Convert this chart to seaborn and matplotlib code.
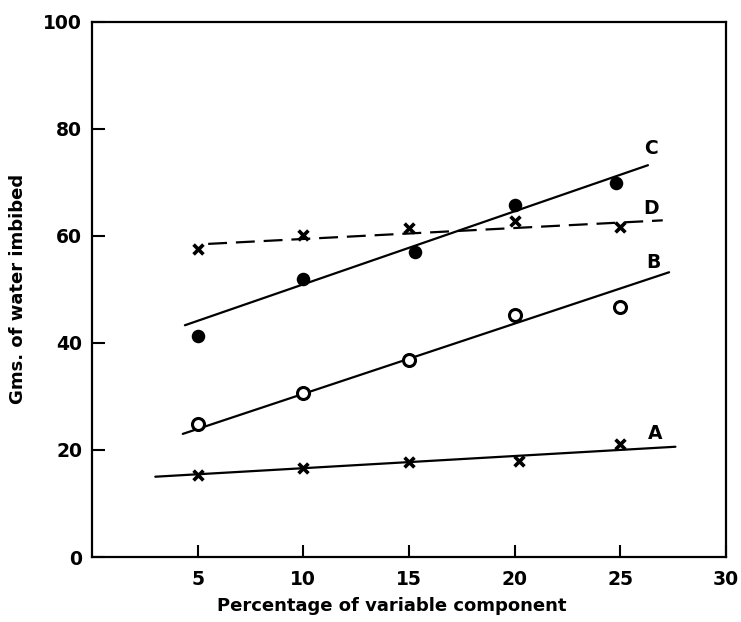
import numpy as np
import pandas as pd
import matplotlib
matplotlib.use("Agg")
import matplotlib.pyplot as plt
import seaborn as sns

# ---- data ----
pct = [5, 10, 15, 20, 25]
c_x = [5, 10, 15.3, 20, 24.8]
c_y = [41.3, 52.0, 57.0, 65.8, 69.9]
d_y = [57.6, 60.2, 61.5, 62.7, 61.6]
b_y = [24.8, 30.7, 36.8, 45.3, 46.8]
a_x = [5, 10, 15, 20.2, 25]
a_y = [15.3, 16.7, 17.8, 17.9, 21.2]

# fitted lines (endpoints)
c_line_x = [4.4, 26.3]
c_line_y = [43.3, 73.2]
d_line_x = [5.5, 27.0]
d_line_y = [58.5, 62.9]
b_line_x = [4.3, 27.3]
b_line_y = [23.0, 53.2]
a_line_x = [3.0, 27.6]
a_line_y = [15.0, 20.6]

curve_names = ["C", "D", "B", "A"]
curve_label_x = [26.1, 26.1, 26.2, 26.3]
curve_label_y = [76.3, 65.2, 55.0, 23.0]

x_ticks = [5, 10, 15, 20, 25, 30]
y_ticks = [0, 20, 40, 60, 80, 100]
x_title = "Percentage of variable component"
y_title = "Gms. of water imbibed"

# ---- plotting ----
sns.set_style("ticks")
plt.rcParams['font.family'] = ['DejaVu Sans']
plt.rcParams['font.weight'] = 'bold'
plt.rcParams['axes.labelcolor'] = 'black'
plt.rcParams['text.color'] = 'black'

fig = plt.figure(figsize=(7.41, 6.22), dpi=100)
ax = fig.add_axes([0.124, 0.1045, 0.856, 0.8605])

lw = 1.6
sns.lineplot(x=c_line_x, y=c_line_y, ax=ax, color="black", lw=lw)
sns.lineplot(x=b_line_x, y=b_line_y, ax=ax, color="black", lw=lw)
sns.lineplot(x=a_line_x, y=a_line_y, ax=ax, color="black", lw=lw)
sns.lineplot(x=d_line_x, y=d_line_y, ax=ax, color="black", lw=lw)
ax.lines[-1].set_dashes([8.5, 4])

sns.scatterplot(x=c_x, y=c_y, ax=ax, color="black", s=95, marker="o",
                edgecolor="black", linewidth=0, zorder=5)
sns.scatterplot(x=pct, y=b_y, ax=ax, color="white", s=75, marker="o",
                edgecolor="black", linewidth=2.2, zorder=5)
sns.scatterplot(x=pct, y=d_y, ax=ax, color="black", s=50, marker="x",
                linewidth=2.6, zorder=5)
sns.scatterplot(x=a_x, y=a_y, ax=ax, color="black", s=50, marker="x",
                linewidth=2.6, zorder=5)

for name, lx, ly in zip(curve_names, curve_label_x, curve_label_y):
    ax.text(lx, ly, name, ha="left", va="center", fontsize=13.5,
            fontweight="bold", color="black")

ax.set_xlim(0, 30)
ax.set_ylim(0, 100)
ax.set_xticks(x_ticks)
ax.set_yticks(y_ticks)
ax.set_xticklabels([str(v) for v in x_ticks])
ax.set_yticklabels([str(v) for v in y_ticks])
ax.tick_params(axis="both", direction="in", length=9, width=1.5,
               labelsize=13.5, colors="black")
ax.tick_params(axis="x", pad=9)
ax.tick_params(axis="y", pad=7)
for lab in ax.get_xticklabels() + ax.get_yticklabels():
    lab.set_fontweight("bold")

for sp in ax.spines.values():
    sp.set_visible(True)
    sp.set_linewidth(1.6)
    sp.set_color("black")

ax.set_xlabel(x_title, fontsize=13, fontweight="bold", labelpad=6,
              color="black")
ax.xaxis.label.set_x(0.473)
ax.set_ylabel(y_title, fontsize=13, fontweight="bold", labelpad=12,
              color="black")

fig.savefig("out.png", dpi=100, facecolor="white")
